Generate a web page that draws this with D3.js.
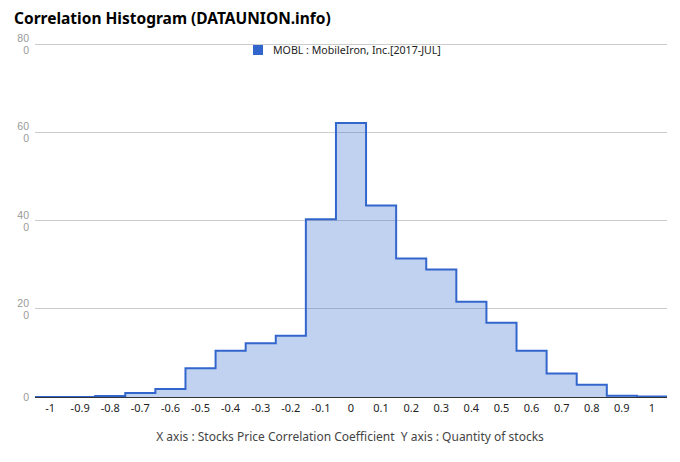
<!DOCTYPE html>
<html><head><meta charset="utf-8">
<script src="https://cdnjs.cloudflare.com/ajax/libs/d3/7.8.5/d3.min.js"></script>
<style>body{margin:0;background:#fff;} svg{display:block;font-family:"Noto Sans",sans-serif;}</style>
</head><body><svg id="c" width="680" height="462"></svg>
<script>
const categories = ["-1","-0.9","-0.8","-0.7","-0.6","-0.5","-0.4","-0.3","-0.2","-0.1","0","0.1","0.2","0.3","0.4","0.5","0.6","0.7","0.8","0.9","1"];
const values = [0,0,0.2,0.9,1.8,6.5,10.5,12.2,13.9,40.3,62.1,43.4,31.4,28.9,21.6,16.8,10.5,5.3,2.8,0.3,0.1];
const yTicks = [0,20,40,60,80];
const seriesName = "MOBL : MobileIron, Inc.[2017-JUL]";
const title = "Correlation Histogram (DATAUNION.info)";
const caption = "X axis : Stocks Price Correlation Coefficient  Y axis : Quantity of stocks";

const svg = d3.select("#c");
const L = 35, R = 667, T = 44, B = 397;
const x = d3.scaleBand().domain(categories).range([L, R]).padding(0);
const y = d3.scaleLinear().domain([0, 80]).range([B, T]);

svg.append("text").attr("x", 14).attr("y", 24).attr("font-size", 15.5).attr("font-weight", "bold").attr("fill", "#000").text(title);

// gridlines
svg.append("g").selectAll("line").data(yTicks.filter(d => d > 0)).join("line")
  .attr("x1", L).attr("x2", R).attr("y1", d => y(d)).attr("y2", d => y(d))
  .attr("stroke", "#cccccc").attr("stroke-width", 1).attr("shape-rendering", "crispEdges");

// y labels (wrapped in two lines as in the original)
const yl = svg.append("g").selectAll("text").data(yTicks).join("text")
  .attr("x", 29).attr("text-anchor", "end").attr("font-size", 10.5)
  .attr("font-family", "'Liberation Sans', Arial, sans-serif").attr("fill", "#999");
yl.each(function(d) {
  const t = d3.select(this);
  if (d === 0) {
    t.attr("y", y(d) + 4).text("0");
  } else {
    t.append("tspan").attr("x", 29).attr("y", y(d) - 2).text(String(d));
    t.append("tspan").attr("x", 29).attr("y", y(d) + 10).text("0");
  }
});

// stepped area
const pts = categories.map((c, i) => ({ x: x(c), v: values[i] }));
pts.push({ x: x(categories[categories.length - 1]) + x.bandwidth(), v: values[values.length - 1] });
const area = d3.area().curve(d3.curveStepAfter).x(d => d.x).y0(y(0)).y1(d => y(d.v));
const line = d3.line().curve(d3.curveStepAfter).x(d => d.x).y(d => y(d.v));
svg.append("path").datum(pts).attr("d", area).attr("fill", "#3366cc").attr("fill-opacity", 0.3);
svg.append("path").datum(pts).attr("d", line).attr("fill", "none").attr("stroke", "#3366cc").attr("stroke-width", 2);

// baseline
svg.append("line").attr("x1", L).attr("x2", R).attr("y1", y(0)).attr("y2", y(0)).attr("stroke", "#333").attr("stroke-width", 1).attr("shape-rendering", "crispEdges");

// x labels
svg.append("g").selectAll("text").data(categories).join("text")
  .attr("x", d => x(d) + x.bandwidth() / 2).attr("y", 412).attr("text-anchor", "middle")
  .attr("font-size", 11).attr("fill", "#222").text(d => d);

// legend
svg.append("rect").attr("x", 253).attr("y", 45).attr("width", 10).attr("height", 10).attr("fill", "#3366cc");
svg.append("text").attr("x", 273).attr("y", 54).attr("font-size", 10.6).attr("fill", "#222").text(seriesName);

// caption
svg.append("text").attr("x", 350).attr("y", 441).attr("text-anchor", "middle").attr("font-size", 12)
  .style("white-space", "pre").attr("fill", "#444").text(caption);
</script></body></html>
